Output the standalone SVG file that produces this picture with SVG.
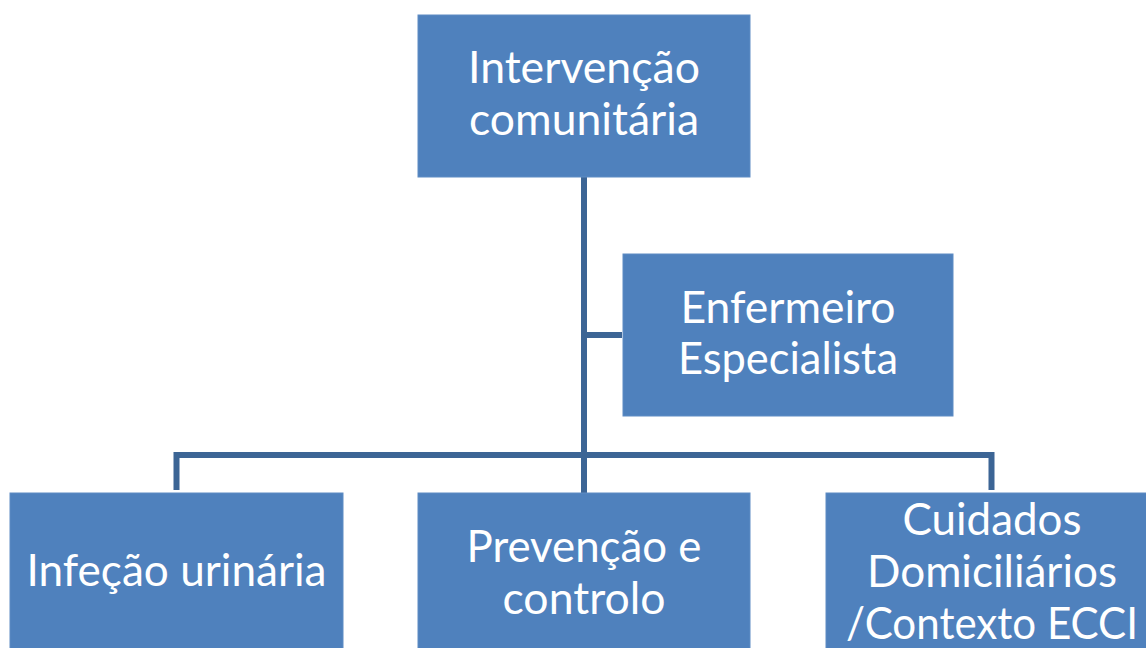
<svg xmlns="http://www.w3.org/2000/svg" width="1146" height="648" viewBox="0 0 1146 648">
<style>
.box{fill:#4F81BD;stroke:#5f8cc4;stroke-width:1}
.t{font-family:"Lato","Open Sans",sans-serif;font-size:44px;fill:#ffffff;text-anchor:middle}
.c{fill:none;stroke:#3C6595;stroke-width:6;stroke-linejoin:miter}
</style>
<rect width="1146" height="648" fill="#ffffff"/>
<g id="connectors">
<path class="c" d="M584 177 V455"/>
<path class="c" d="M584 335 H622"/>
<path class="c" d="M176.5 490 V455 H991.5 V490"/>
<path class="c" d="M584 455 V493"/>
</g>
<g id="n-top">
<rect class="box" x="418" y="15" width="332" height="162"/>
<text class="t" x="584" y="83" textLength="232" lengthAdjust="spacingAndGlyphs">Intervenção</text>
<text class="t" x="584" y="135" textLength="230" lengthAdjust="spacingAndGlyphs">comunitária</text>
</g>
<g id="n-assistant">
<rect class="box" x="623" y="254" width="330" height="162"/>
<text class="t" x="788" y="323" textLength="215" lengthAdjust="spacingAndGlyphs">Enfermeiro</text>
<text class="t" x="788" y="374" textLength="220" lengthAdjust="spacingAndGlyphs">Especialista</text>
</g>
<g id="n-infecao">
<rect class="box" x="10" y="493" width="333" height="165"/>
<text class="t" x="176.5" y="586" textLength="300" lengthAdjust="spacingAndGlyphs">Infeção urinária</text>
</g>
<g id="n-prevencao">
<rect class="box" x="418" y="493" width="332" height="165"/>
<text class="t" x="584" y="562" textLength="235" lengthAdjust="spacingAndGlyphs">Prevenção e</text>
<text class="t" x="584" y="614" textLength="163" lengthAdjust="spacingAndGlyphs">controlo</text>
</g>
<g id="n-cuidados">
<rect class="box" x="826" y="493" width="332" height="165"/>
<text class="t" x="992" y="535" textLength="179" lengthAdjust="spacingAndGlyphs">Cuidados</text>
<text class="t" x="992" y="587" textLength="250" lengthAdjust="spacingAndGlyphs">Domiciliários</text>
<text class="t" x="992" y="639" textLength="292" lengthAdjust="spacingAndGlyphs">/Contexto ECCI</text>
</g>
</svg>
